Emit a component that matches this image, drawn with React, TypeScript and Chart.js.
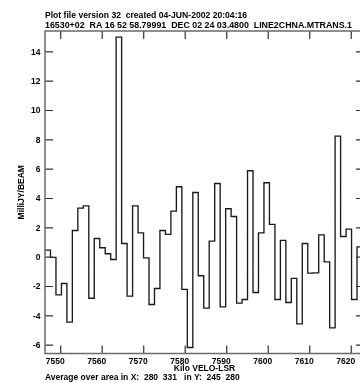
import React, { useEffect, useRef } from "react";
import { Chart, registerables } from "chart.js";

Chart.register(...registerables);

const titleLines = [
  "Plot file version 32  created 04-JUN-2002 20:04:16",
  "16530+02  RA 16 52 58.79991  DEC 02 24 03.4800  LINE2CHNA.MTRANS.1",
];
const xTitle = "Kilo VELO-LSR";
const yTitle = "MilliJY/BEAM";
const footer = "Average over area in X:  280  331   in Y:  245  280";

// channel centre velocities (km/s)
const velocities = [
  7546.88, 7548.2, 7549.52, 7550.84, 7552.15, 7553.47, 7554.79, 7556.11, 7557.43, 7558.75,
  7560.07, 7561.39, 7562.7, 7564.02, 7565.34, 7566.66, 7567.98, 7569.3, 7570.62, 7571.94,
  7573.25, 7574.57, 7575.89, 7577.21, 7578.53, 7579.85, 7581.17, 7582.49, 7583.8, 7585.12,
  7586.44, 7587.76, 7589.08, 7590.4, 7591.72, 7593.04, 7594.35, 7595.67, 7596.99, 7598.31,
  7599.63, 7600.95, 7602.27, 7603.59, 7604.9, 7606.22, 7607.54, 7608.86, 7610.18, 7611.5,
  7612.82, 7614.14, 7615.45, 7616.77, 7618.09, 7619.41, 7620.73, 7622.05,
];

// flux density (mJy/beam)
const fluxes = [
  0.48, -0.02, -2.57, -1.8, -4.43, 1.82, 3.34, 3.5, -2.8, 1.27,
  0.64, 0.23, -0.16, 15.0, 0.93, -2.66, 3.5, 1.66, -0.05, -3.23,
  -2.14, 1.82, 1.55, 3.14, 4.8, -2.2, -6.16, 4.41, -1.27, -3.48,
  1.09, 5.02, -3.39, 3.3, 2.77, -3.14, -2.89, 5.89, -2.41, 1.66,
  5.07, 2.23, -2.89, 1.14, -3.09, -1.45, -4.55, 0.93, -1.09, -1.07,
  1.52, -0.32, -4.82, 8.25, 1.41, 1.91, -2.89, 0.7,
];

const xTicks = [7550, 7560, 7570, 7580, 7590, 7600, 7610, 7620];
const yTicks = [-6, -4, -2, 0, 2, 4, 6, 8, 10, 12, 14];
const xRange = [7546.22, 7623.07];
const yRange = [-6.57, 15.42];

const FAMILY = "'Liberation Sans', Arial, Helvetica, sans-serif";
const FONT = `bold 8.5px ${FAMILY}`;

const framePlugin = {
  id: "aipsFrame",
  afterDraw(chart: any) {
    const { ctx, chartArea } = chart;
    const { left, right, top, bottom } = chartArea;
    const xs = chart.scales.x;
    const ys = chart.scales.y;
    ctx.save();
    // ticks
    ctx.strokeStyle = "#333";
    ctx.lineWidth = 1.2;
    const tl = 8;
    ctx.beginPath();
    xTicks.forEach((v) => {
      const px = xs.getPixelForValue(v);
      ctx.moveTo(px, bottom);
      ctx.lineTo(px, bottom - tl);
      ctx.moveTo(px, top);
      ctx.lineTo(px, top + tl);
    });
    yTicks.forEach((v) => {
      const py = ys.getPixelForValue(v);
      ctx.moveTo(left, py);
      ctx.lineTo(left + tl, py);
      ctx.moveTo(right, py);
      ctx.lineTo(right - tl, py);
    });
    ctx.stroke();
    // frame
    ctx.strokeStyle = "#6a6a6a";
    ctx.lineWidth = 1.5;
    ctx.strokeRect(left, top, right - left, bottom - top);

    // labels
    ctx.fillStyle = "#000";
    ctx.font = FONT;
    ctx.textAlign = "right";
    ctx.textBaseline = "middle";
    yTicks.forEach((v) => {
      ctx.fillText(String(v), left - 4.5, ys.getPixelForValue(v) + 0.5);
    });
    ctx.textAlign = "center";
    ctx.textBaseline = "alphabetic";
    xTicks.forEach((v) => {
      ctx.fillText(String(v), xs.getPixelForValue(v) - 5.5, bottom + 10);
    });
    // axis title x
    ctx.fillText(xTitle, (left + right) / 2, bottom + 17.5);
    // footer
    ctx.textAlign = "left";
    ctx.fillText(footer, left, bottom + 26);
    // title lines
    ctx.font = `bold 8.6px ${FAMILY}`;
    ctx.fillText(titleLines[0], left, top - 12.7);
    ctx.font = `bold 8.85px ${FAMILY}`;
    ctx.fillText(titleLines[1], left, top - 3.3);
    // y title
    ctx.font = FONT;
    ctx.save();
    ctx.translate(24, (top + bottom) / 2);
    ctx.rotate(-Math.PI / 2);
    ctx.textAlign = "center";
    ctx.fillText(yTitle, 0, 0);
    ctx.restore();
    ctx.restore();
  },
};

export default function App() {
  const ref = useRef<HTMLCanvasElement | null>(null);
  useEffect(() => {
    if (!ref.current) return;
    const hw = (velocities[1] - velocities[0]) / 2;
    const pts = velocities.map((v, i) => ({ x: v, y: fluxes[i] }));
    const data = [
      { x: velocities[0] - hw, y: fluxes[0] },
      ...pts,
      { x: velocities[velocities.length - 1] + hw, y: fluxes[fluxes.length - 1] },
    ];
    const chart = new Chart(ref.current, {
      type: "line",
      data: {
        datasets: [
          {
            data,
            stepped: "middle",
            borderColor: "#1a1a1a",
            borderWidth: 1.35,
            pointRadius: 0,
            fill: false,
          },
        ],
      },
      options: {
        animation: false,
        responsive: false,
        devicePixelRatio: 1,
        layout: { padding: { left: 45, top: 31, right: 4, bottom: 29.5 } },
        plugins: { legend: { display: false }, tooltip: { enabled: false }, title: { display: false } },
        scales: {
          x: { type: "linear", min: xRange[0], max: xRange[1], display: false },
          y: { type: "linear", min: yRange[0], max: yRange[1], display: false },
        },
      },
      plugins: [framePlugin],
    });
    return () => chart.destroy();
  }, []);
  return (
    <div style={{ position: "fixed", left: 0, top: 0, width: 360, height: 383, overflow: "hidden", background: "#fff" }}>
      <canvas ref={ref} width={368} height={383} style={{ display: "block" }} />
    </div>
  );
}
